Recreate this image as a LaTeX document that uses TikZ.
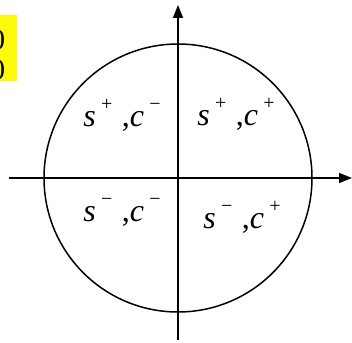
\documentclass[tikz,border=0pt]{standalone}
\usepackage{fontspec}
\setmainfont{Liberation Serif}
\usetikzlibrary{arrows.meta}
\definecolor{surligne}{RGB}{255,250,10}
\newcommand{\signes}[2]{\textit{s}\,\raisebox{0.5em}{\fontsize{20}{22}\selectfont #1}\hspace{0.3em},\textit{c}\,\raisebox{0.5em}{\fontsize{20}{22}\selectfont #2}}

\begin{document}
\begin{tikzpicture}[x=1pt, y=1pt, line width=1.5pt,
		axe/.style={-{Triangle[length=13pt,width=10pt]}},
		quad/.style={font=\fontsize{32}{34}\selectfont, inner sep=0pt},
		bord/.style={font=\fontsize{29}{30}\selectfont, inner sep=0pt}]
			\useasboundingbox (-178,-164) rectangle (174,178);
			% bout de texte surligne, coupe par le bord
			\begin{scope}
				\fill[surligne] (-178,163) rectangle (-161,97);
				\node[bord] (zeroa) at (-180,138) {0};
				\node[bord] (zerob) at (-180,108) {0};
			\end{scope}
			% cercle et axes
			\coordinate (O) at (0,0);
			\draw (O) circle[radius=134];
			\coordinate (xg) at (-169,0);
			\coordinate (xd) at (174,0);
			\coordinate (yb) at (0,-162);
			\coordinate (yh) at (0,173);
			\draw[axe] (xg) -- (xd);
			\draw[axe] (yb) -- (yh);
			% quadrants
			\node[quad] (hg) at (-56,63)  {\signes{+}{−}};
			\node[quad] (hd) at (58,64)   {\signes{+}{+}};
			\node[quad] (bg) at (-56,-34) {\signes{−}{−}};
			\node[quad] (bd) at (64,-39)  {\signes{−}{+}};
		\end{tikzpicture}
\end{document}
